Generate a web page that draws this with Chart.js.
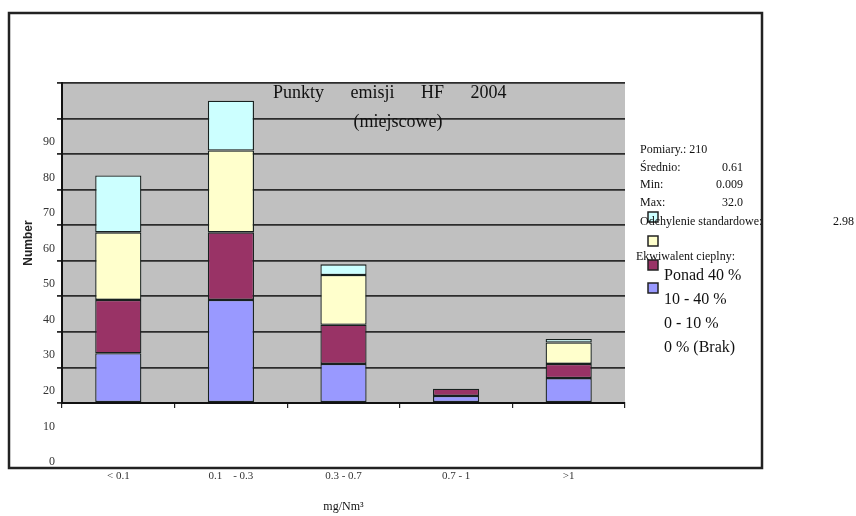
<!DOCTYPE html>
<html>
<head>
<meta charset="utf-8">
<title>Punkty emisji HF 2004</title>
<script src="https://cdn.jsdelivr.net/npm/chart.js@4.4.1/dist/chart.umd.min.js"></script>
<style>
  html, body { margin: 0; padding: 0; background: #fff; }
  #wrap { width: 856px; height: 516px; position: relative; }
</style>
</head>
<body>
<div id="wrap"><canvas id="hf"></canvas></div>
<script>
// stężenie HF, przedziały w mg/Nm3
const categories = ['< 0.1', '0.1    - 0.3', '0.3 - 0.7', '0.7 - 1', '>1'];

// liczba punktów w każdym przedziale, wg ekwiwalentu cieplnego
const brak = [14, 29, 11, 2, 7];        // 0 % (Brak)
const od0do10 = [15, 19, 11, 2, 4];     // 0 - 10 %
const od10do40 = [19, 23, 14, 0, 6];    // 10 - 40 %
const ponad40 = [16, 14, 3, 0, 1];      // Ponad 40 %

const yTicks = [0, 10, 20, 30, 40, 50, 60, 70, 80, 90];

// statystyki pomiarów
const statLabels = ['Pomiary.: 210', 'Średnio:', 'Min:', 'Max:'];
const statValues = ['', '0.61', '0.009', '32.0'];
const stdDev = '2.98';

const SERIF = '"Liberation Serif", "Times New Roman", serif';

const datasets = [
  { label: '0 % (Brak)', data: brak, backgroundColor: '#9999ff' },
  { label: '0 - 10 %', data: od0do10, backgroundColor: '#993366' },
  { label: '10 - 40 %', data: od10do40, backgroundColor: '#ffffcc' },
  { label: 'Ponad 40 %', data: ponad40, backgroundColor: '#ccffff' }
].map(d => ({
  ...d,
  borderColor: '#18211f',
  borderWidth: 1.3,
  borderSkipped: false,
  barPercentage: 0.41,
  categoryPercentage: 1
}));

// gray plot area + white page
const backdrop = {
  id: 'backdrop',
  beforeDraw(chart) {
    const { ctx, chartArea: a } = chart;
    ctx.save();
    ctx.fillStyle = '#fff';
    ctx.fillRect(0, 0, chart.width, chart.height);
    ctx.fillStyle = '#c0c0c0';
    ctx.fillRect(a.left, a.top, a.right - a.left, a.bottom - a.top);
    ctx.restore();
  }
};

// title inside plot, stats block, legend squares, outer frame
const extras = {
  id: 'extras',
  afterDraw(chart) {
    const ctx = chart.ctx;
    ctx.save();
    ctx.fillStyle = '#111';
    ctx.textBaseline = 'middle';

    // title
    ctx.font = '18px ' + SERIF;
    ctx.textAlign = 'left';
    if ('wordSpacing' in ctx) ctx.wordSpacing = '22px';
    ctx.fillText('Punkty emisji HF 2004', 273, 93);
    if ('wordSpacing' in ctx) ctx.wordSpacing = '0px';
    ctx.textAlign = 'center';
    ctx.fillText('(miejscowe)', 398, 122);

    // stats
    ctx.font = '12px ' + SERIF;
    statLabels.forEach((t, i) => {
      const y = 150 + i * 17.5;
      ctx.textAlign = 'left';
      ctx.fillText(t, 640, y);
      if (statValues[i]) {
        ctx.textAlign = 'right';
        ctx.fillText(statValues[i], 743, y);
      }
    });

    // legend squares (top = last series)
    const order = datasets.slice().reverse();
    const sqTop = [212, 236, 260, 283];
    order.forEach((d, i) => {
      ctx.fillStyle = d.backgroundColor;
      ctx.fillRect(648, sqTop[i], 10, 10);
      ctx.strokeStyle = '#222';
      ctx.lineWidth = 1.5;
      ctx.strokeRect(648, sqTop[i], 10, 10);
    });

    ctx.fillStyle = '#111';
    ctx.font = '12px ' + SERIF;
    ctx.textAlign = 'left';
    ctx.fillText('Odchylenie standardowe:', 640, 222);
    ctx.fillText(stdDev, 833, 222);
    ctx.fillText('Ekwiwalent cieplny:', 636, 257);

    ctx.font = '16px ' + SERIF;
    order.forEach((d, i) => {
      ctx.fillText(d.label, 664, 276 + i * 24);
    });

    // frame
    ctx.strokeStyle = '#222';
    ctx.lineWidth = 2.5;
    ctx.strokeRect(9, 13, 753, 455);
    ctx.restore();
  }
};

new Chart(document.getElementById('hf'), {
  type: 'bar',
  data: { labels: categories, datasets },
  plugins: [backdrop, extras],
  options: {
    responsive: true,
    maintainAspectRatio: false,
    animation: false,
    layout: { padding: { top: 83, right: 231, left: 0, bottom: 0 } },
    plugins: {
      legend: { display: false },
      tooltip: { enabled: false },
      title: { display: false }
    },
    scales: {
      x: {
        stacked: true,
        afterFit: s => { s.height = 113; },
        grid: { drawOnChartArea: false, drawTicks: true, tickLength: 5, color: '#222', lineWidth: 1.2, offset: true },
        border: { color: '#111', width: 2 },
        ticks: { color: '#333', font: { family: SERIF, size: 11 }, padding: 62, maxRotation: 0 },
        title: { display: true, text: 'mg/Nm³', color: '#111', font: { family: SERIF, size: 12 }, padding: { bottom: 2 } }
      },
      y: {
        stacked: true,
        min: 0,
        max: 90,
        afterFit: s => { s.width = 62; },
        afterBuildTicks: s => { s.ticks = yTicks.map(v => ({ value: v })); },
        grid: { color: '#2c2c2c', lineWidth: 1.8, tickLength: 5, drawTicks: true },
        border: { color: '#111', width: 2 },
        ticks: { color: '#333', font: { family: SERIF, size: 12 }, padding: 2, labelOffset: 59, autoSkip: false },
        title: { display: true, text: 'Number', color: '#222', font: { family: '"Liberation Sans", Arial, sans-serif', size: 12, weight: 'bold' }, padding: { top: 21 } }
      }
    }
  }
});
</script>
</body>
</html>
